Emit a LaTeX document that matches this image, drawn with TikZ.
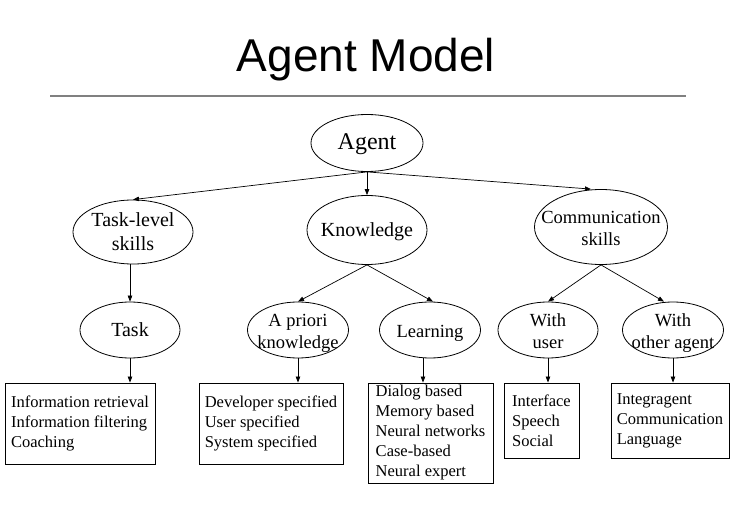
\documentclass[tikz,border=0pt]{standalone}
\usepackage{fontspec}
\setmainfont{Liberation Serif}
\newfontfamily\titlefont{Liberation Sans}
\usetikzlibrary{shapes.geometric,arrows.meta}

% centred text that does not widen the oval round it
\newcommand{\ovaltxt}[1]{\makebox[0pt]{\smash{\raisebox{-7pt}{\begin{tabular}{@{}c@{}}#1\end{tabular}}}}}

\begin{document}
\begin{tikzpicture}[x=1pt, y=-1pt, >={Triangle[length=6pt,width=4.5pt]},
  oval/.style={ellipse, draw, line width=.8pt, inner sep=0pt},
  big/.style={font=\fontsize{20}{24}\selectfont},
  mid/.style={font=\fontsize{18.5}{22}\selectfont},
  listbox/.style={draw, rectangle, line width=.9pt, inner sep=0pt,
    align=left, font=\fontsize{16.5}{20}\selectfont},
  link/.style={->, line width=.7pt}]
 \useasboundingbox (0,0) rectangle (732,508);

 % title
 \node (title) [anchor=base, font=\titlefont\fontsize{46}{50}\selectfont] at (366,72) {Agent Model};
 \draw[gray, line width=1.4pt] (50,96) -- (686,96);

 % ovals
 \node (agent) [oval, minimum width=112pt, minimum height=57pt, font=\fontsize{24}{28}\selectfont] at (367,143) {\ovaltxt{Agent}};
 \node (tasklevel) [oval, big, minimum width=120pt, minimum height=64pt] at (133,232) {\ovaltxt{Task-level\\skills}};
 \node (knowledge) [oval, big, minimum width=120pt, minimum height=69pt] at (367,230) {\ovaltxt{Knowledge}};
 \node (comm) [oval, mid, minimum width=133pt, minimum height=75pt] at (601,227) {\ovaltxt{Communication\\skills}};
 \node (task) [oval, big, minimum width=100pt, minimum height=56pt] at (130,330) {\ovaltxt{Task}};
 \node (apriori) [oval, mid, minimum width=101pt, minimum height=56pt] at (298,330) {\ovaltxt{A priori\\knowledge}};
 \node (learning) [oval, mid, minimum width=101pt, minimum height=56pt] at (430,330) {\ovaltxt{Learning}};
 \node (withuser) [oval, mid, minimum width=100pt, minimum height=56pt] at (548,330) {\ovaltxt{With\\user}};
 \node (withother) [oval, mid, minimum width=101pt, minimum height=56pt] at (673,330) {\ovaltxt{With\\other agent}};

 % lists
 \node (taskbox) [listbox, minimum width=150pt, minimum height=81pt] at (80,423.5)
   {Information retrieval\\Information filtering\\Coaching};
 \node (apbox) [listbox, minimum width=144pt, minimum height=81pt] at (271,423.5)
   {Developer specified\\User specified\\System specified};
 \node (learnbox) [listbox, minimum width=125pt, minimum height=100pt] at (430.5,433)
   {Dialog based\\Memory based\\Neural networks\\Case-based\\Neural expert};
 \node (userbox) [listbox, minimum width=75pt, minimum height=75pt] at (541.5,420.5)
   {Interface\\Speech\\Social};
 \node (otherbox) [listbox, minimum width=118pt, minimum height=75pt] at (670,420.5)
   {Integragent\\Communication\\Language};

 % arrows
 \draw[link] (agent.south) -- (tasklevel.north);
 \draw[link] (agent.south) -- (knowledge.north);
 \draw[link] (agent.south) -- ([xshift=-10pt]comm.north);
 \draw[link] (tasklevel.south -| task) -- (task.north);
 \draw[link] (knowledge.south) -- (apriori.north);
 \draw[link] (knowledge.south) -- ([xshift=3pt]learning.north);
 \draw[link] (comm.south) -- (withuser.north);
 \draw[link] (comm.south) -- ([xshift=-9pt]withother.north);
 \draw[link] (task.south) -- (task.south |- taskbox.north);
 \draw[link] (apriori.south) -- (apriori.south |- apbox.north);
 \draw[link] ([xshift=-7pt]learning.south) -- ([xshift=-7pt]learning.south |- learnbox.north);
 \draw[link] (withuser.south) -- (withuser.south |- userbox.north);
 \draw[link] (withother.south) -- (withother.south |- otherbox.north);
\end{tikzpicture}
\end{document}
